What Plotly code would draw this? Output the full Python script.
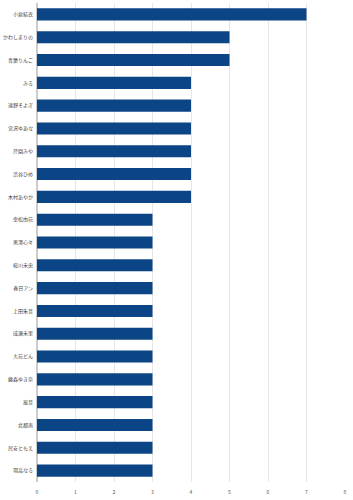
import plotly.graph_objects as go

names = ["小倉結衣", "かわしまりの", "青葉りんご", "みる", "遠野そよぎ", "宮沢ゆあな", "芹園みや",
         "渋谷ひめ", "木村あやか", "金松由花", "黒澤心々", "桜川未央", "春日アン", "上田朱音",
         "成瀬未里", "大花どん", "藤森ゆき奈", "風音", "北都南", "民安ともえ", "羽高なる"]
counts = [7, 5, 5, 4, 4, 4, 4, 4, 4, 3, 3, 3, 3, 3, 3, 3, 3, 3, 3, 3, 3]
x_ticks = [0, 1, 2, 3, 4, 5, 6, 7, 8]

fig = go.Figure(go.Bar(
    x=counts, y=names, orientation="h",
    marker=dict(color="#0b4585", line=dict(width=0)),
    width=0.53,
))
fig.update_layout(
    width=353, height=500,
    margin=dict(l=34, r=8, t=3, b=18),
    paper_bgcolor="white", plot_bgcolor="white",
    font=dict(family="Noto Sans CJK JP", size=5, color="#444"),
    showlegend=False,
)
fig.update_xaxes(range=[0, 8], tickvals=x_ticks, showgrid=True, gridcolor="#e6e6e6",
                 gridwidth=1, zeroline=True, zerolinecolor="#cccccc", ticks="",
                 ticklabelstandoff=6,
                 tickfont=dict(size=5, color="#555"), fixedrange=True)
fig.update_yaxes(autorange="reversed", ticks="", showgrid=False, ticklabelstandoff=3,
                 tickfont=dict(size=5, color="#444"), fixedrange=True)
fig.write_html("out.html", config={"displayModeBar": False})
